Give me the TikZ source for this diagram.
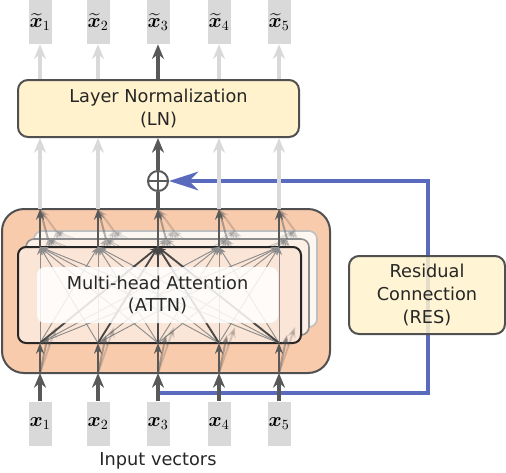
\RequirePackage{fix-cm}
\documentclass[tikz,border=0pt]{standalone}
\usepackage{fontspec}
\setmainfont{DejaVu Sans}
\usepackage{amsmath,bm}
\usetikzlibrary{arrows.meta}
\definecolor{boxgray}{HTML}{D9D9D9}
\definecolor{lightarr}{HTML}{D9D9D9}
\definecolor{darkarr}{HTML}{595959}
\definecolor{cream}{HTML}{FFF2CC}
\definecolor{peach}{HTML}{F8CBAD}
\definecolor{peachlight}{HTML}{FBE5D6}
\definecolor{peachpale}{HTML}{FCEFE6}
\definecolor{peachwhite}{HTML}{FDF7F2}
\definecolor{resblue}{RGB}{90,107,190}
\definecolor{edgegray}{HTML}{505050}
\begin{document}
\begin{tikzpicture}[x=0.75pt,y=-0.75pt,
  txt/.style={font=\fontsize{13.3}{17}\selectfont, text=black!85, align=center},
  vecbox/.style={fill=boxgray, minimum width=17.25pt, minimum height=33pt, inner sep=0pt, font=\fontsize{15}{18}\selectfont},
  lightarrow/.style={draw=lightarr, line width=3pt, -{Stealth[length=11pt,width=9pt]}},
  darkarrow/.style={draw=darkarr, line width=3pt, -{Stealth[length=11pt,width=9pt]}},
  darkline/.style={draw=darkarr, line width=3pt},
  lnbox/.style={txt, draw=edgegray, line width=1.5pt, fill=cream, rounded corners=7.5pt, minimum width=210.75pt, minimum height=42.75pt, inner sep=0pt},
  resbox/.style={txt, draw=edgegray, line width=1.5pt, fill=cream, fill opacity=0.85, text opacity=1, rounded corners=7.5pt, minimum width=117pt, minimum height=58.5pt, inner sep=0pt},
  outerbox/.style={draw=edgegray, line width=1.5pt, fill=peach, rounded corners=16.5pt, minimum width=246pt, minimum height=123pt, inner sep=0pt},
  layerbox/.style={rounded corners=6pt, minimum width=212.25pt, minimum height=72pt, inner sep=0pt},
  textbox/.style={txt, fill=white, fill opacity=0.85, text opacity=1, rounded corners=6pt, minimum width=180.75pt, minimum height=42pt, inner sep=0pt},
  plusnode/.style={circle, draw=darkarr, line width=1.5pt, fill=white, minimum size=15pt, inner sep=0pt},
  blueline/.style={draw=resblue, line width=3pt, -{Stealth[length=22pt,width=14pt,inset=7pt]}},
  attn/.style={draw=black!45, line width=0.7pt, -{Stealth[length=6pt,width=4.5pt]}},
  attnd/.style={draw=black!72, line width=1.4pt, -{Stealth[length=6pt,width=4.5pt]}},
  thinup/.style={draw=darkarr, line width=1.5pt, -{Stealth[length=8pt,width=6pt]}},
]
\useasboundingbox (0,0) rectangle (506,472);

% vectors
\foreach \n/\c in {1/40,2/98,3/158,4/219,5/279} {
  \node[vecbox] (y\n) at (\c,22) {$\widetilde{\bm{x}}_{\n}$};
  \node[vecbox] (x\n) at (\c,423.5) {$\bm{x}_{\n}$};
  \coordinate (ot\n) at (\c,209);
  \coordinate (ob\n) at (\c,373);
  \foreach \l in {0,1,2} {
    \coordinate (b\l\n) at ({\c+8*\l},{343-8*\l});
    \coordinate (t\l\n) at ({\c+8*\l},{247-8*\l});
  }
}
\node[txt] (inlabel) at (158,461) {Input vectors};

% layer normalization and plus
\node[lnbox] (ln) at (158.5,108.5) {Layer Normalization\\(LN)};
\node[plusnode] (plus) at (158,181) {};
\draw[darkarr, line width=1.5pt] (plus.north) -- (plus.south) (plus.west) -- (plus.east);

% residual path
\coordinate (bstart) at (158,393);
\coordinate (bc1) at (428,393);
\coordinate (bc2) at (428,181);
\draw[blueline] (bstart) -- (bc1) -- (bc2) -- (plus.east);
\node[resbox] (res) at (427,295) {Residual\\Connection\\(RES)};

% attention block
\node[outerbox] (outer) at (166,291) {};
\node[layerbox, fill=peachwhite, draw=black!25, line width=1.2pt] (l2) at (175.5,279) {};
\foreach \a in {1,...,5} \foreach \b in {1,...,5} \draw[attn, opacity=0.25] (b2\a) -- (t2\b);
\node[layerbox, fill=peachpale, draw=black!45, line width=1.2pt] (l1) at (167.5,287) {};
\foreach \a in {1,...,5} \foreach \b in {1,...,5} \draw[attn, opacity=0.45] (b1\a) -- (t1\b);
\node[layerbox, fill=peachlight, draw=black!85, line width=1.5pt] (l0) at (159.5,295) {};
\foreach \a in {1,2,4,5} \foreach \b in {1,2,4,5} \draw[attn] (b0\a) -- (t0\b);
\foreach \b in {1,2,4,5} \draw[attn] (b03) -- (t0\b);
\foreach \a in {1,...,5} \draw[attnd] (b0\a) -- (t03);
\node[textbox] (attnlabel) at (157.5,295) {Multi-head Attention\\(ATTN)};

% arrows around attention layers
\foreach \n in {1,...,5} {
  \draw[thinup, opacity=0.25] (t2\n) -- (ot\n);
  \draw[thinup, opacity=0.45] (t1\n) -- (ot\n);
  \draw[thinup] (t0\n) -- (ot\n);
  \draw[thinup, opacity=0.25] (ob\n) -- (b2\n);
  \draw[thinup, opacity=0.45] (ob\n) -- (b1\n);
  \draw[thinup] (ob\n) -- (b0\n);
  \draw[darkarrow] (x\n.north) -- (ob\n);
}

% arrows to layer normalization and outputs
\foreach \n in {1,2,4,5} {
  \draw[lightarrow] (ot\n) -- (ln.south -| ot\n);
  \draw[lightarrow] (ln.north -| y\n) -- (y\n.south);
}
\draw[darkline] (ot3) -- (plus.south);
\draw[darkarrow] (plus.north) -- (ln.south -| plus);
\draw[darkarrow] (ln.north -| y3) -- (y3.south);
\end{tikzpicture}
\end{document}
